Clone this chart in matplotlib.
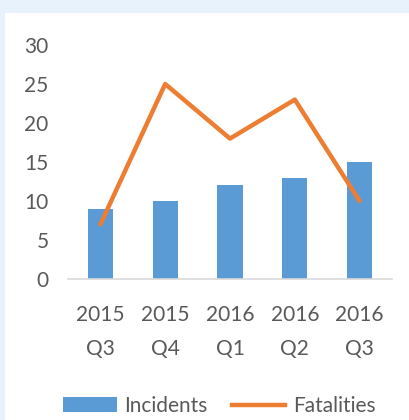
import matplotlib
matplotlib.use("Agg")
import matplotlib.pyplot as plt
from matplotlib.patches import Rectangle, Patch
from matplotlib.lines import Line2D

categories = ["2015\nQ3", "2015\nQ4", "2016\nQ1", "2016\nQ2", "2016\nQ3"]
incidents = [9, 10, 12, 13, 15]
fatalities = [7, 25, 18, 23, 10]
yticks = [0, 5, 10, 15, 20, 25, 30]

plt.rcParams['font.family'] = ['Lato', 'DejaVu Sans']
text_color = "#595959"
bar_color = "#5b9bd5"
line_color = "#ed7d31"

fig = plt.figure(figsize=(4.1, 4.2), dpi=100, facecolor="#e8f2fc")
fig.patches.append(Rectangle((5/410, 0), 1 - 5/410, (420-13)/420, transform=fig.transFigure,
                             facecolor="white", edgecolor="none", zorder=-10))

ax = fig.add_axes([68/410, (420-279)/420, (392-68)/410, (279-45)/420])
ax.set_zorder(5)
ax.set_facecolor("none")
x = list(range(len(categories)))
ax.bar(x, incidents, width=0.39, color=bar_color, zorder=2)
ax.plot(x, fatalities, color=line_color, linewidth=3.2, solid_capstyle="round",
        solid_joinstyle="round", zorder=3)
ax.set_xlim(-0.5, len(categories) - 0.5)
ax.set_ylim(0, 30)
ax.set_yticks(yticks)
ax.set_xticks(x)
ax.set_xticklabels(categories, linespacing=1.85)
for s in ["top", "right", "left"]:
    ax.spines[s].set_visible(False)
ax.spines["bottom"].set_color("#d9d9d9")
ax.spines["bottom"].set_linewidth(1.2)
ax.tick_params(axis="both", length=0, colors=text_color, labelsize=15)
ax.tick_params(axis="y", pad=14)
ax.tick_params(axis="x", pad=19)

handles = [Patch(facecolor=bar_color, edgecolor="none"),
           Line2D([0], [0], color=line_color, linewidth=3.2)]
leg = fig.legend(handles, ["Incidents", "Fatalities"], loc="center",
                 bbox_to_anchor=(219.5/410, (420-406)/420), ncol=2, frameon=False,
                 fontsize=15, handlelength=2.55, handletextpad=0.38, columnspacing=1.15,
                 handleheight=0.75, borderpad=0)
for t in leg.get_texts():
    t.set_color(text_color)

fig.savefig("out.png", dpi=100, facecolor=fig.get_facecolor())
